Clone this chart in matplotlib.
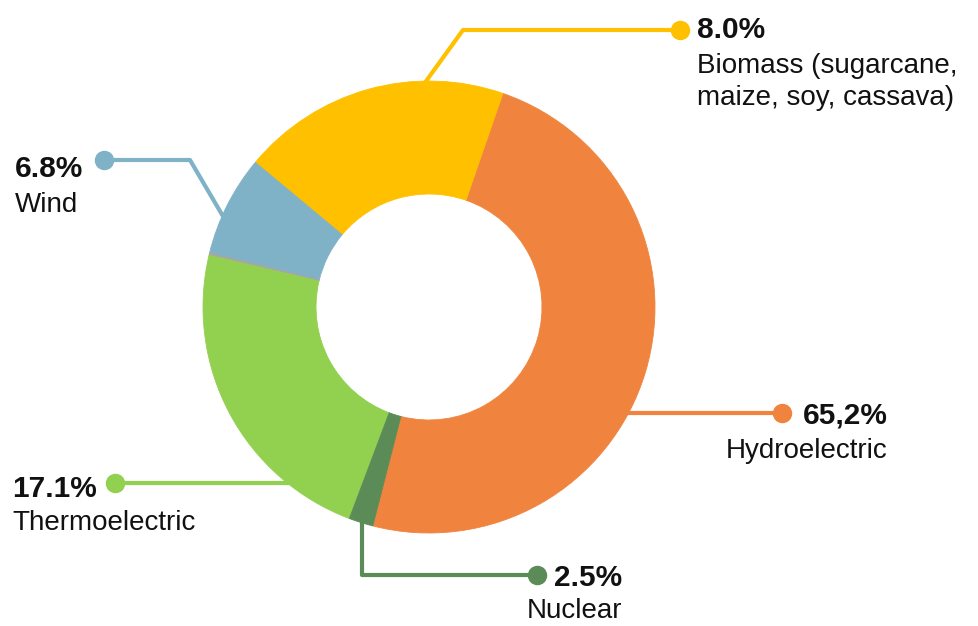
import matplotlib
matplotlib.use('Agg')
import matplotlib.pyplot as plt

plt.rcParams['font.family'] = ['Liberation Sans', 'DejaVu Sans']

# slice shares as drawn in the picture (the printed labels differ from the drawn angles)
sources = ['Hydroelectric', 'Biomass', 'Wind', 'Other', 'Thermoelectric', 'Nuclear']
shares = [48.7, 19.25, 7.2, 0.17, 22.95, 1.73]
colors = ['#F0843E', '#FFC000', '#7FB2C7', '#A6A6A6', '#92D050', '#5B8C57']

# printed labels
pct_labels = ['65,2%', '8.0%', '6.8%', '', '17.1%', '2.5%']
name_labels = ['Hydroelectric', 'Biomass (sugarcane,\nmaize, soy, cassava)', 'Wind', '',
               'Thermoelectric', 'Nuclear']

W, H = 979, 626
fig = plt.figure(figsize=(W / 100, H / 100), dpi=100)
ax = fig.add_axes([0, 0, 1, 1])

cx, cy, R = 429, H - 307, 226
wedges, _ = ax.pie(shares, colors=colors, startangle=-104.4, counterclock=True,
                   center=(cx, cy), radius=R, wedgeprops=dict(width=113, linewidth=0.6))
for w in wedges:
    w.set_edgecolor(w.get_facecolor())
    w.set_zorder(3)

ax.set_xlim(0, W)
ax.set_ylim(0, H)
ax.set_aspect('equal')
ax.axis('off')

# leader lines (pixel coords, y measured from top)
leaders = {
    0: [(620, 413), (782, 413)],
    1: [(424, 84), (463, 30), (680, 30)],
    2: [(224, 218), (190, 160), (104, 160)],
    4: [(295, 483), (115, 483)],
    5: [(362, 515), (362, 575), (537, 575)],
}
for i, pts in leaders.items():
    xs = [p[0] for p in pts]
    ys = [H - p[1] for p in pts]
    ax.plot(xs, ys, color=colors[i], lw=3, solid_capstyle='butt', zorder=1)
    ax.plot(xs[-1], ys[-1], 'o', color=colors[i], ms=13, zorder=2)

# label text: (x, baseline of pct, baseline of name, align)
text_pos = {
    0: (888, 423, 458, 'right'),
    1: (697, 38, 73, 'left'),
    2: (15, 177, 212, 'left'),
    4: (12, 497, 530, 'left'),
    5: (622, 586, 618, 'right'),
}
for i, (x, yp, yn, ha) in text_pos.items():
    ax.text(x, H - yp, pct_labels[i], ha=ha, va='baseline', fontsize=21.5,
            fontweight='bold', color='#111111')
    lines = name_labels[i].split('\n')
    for k, line in enumerate(lines):
        ax.text(x, H - yn - 32 * k, line, ha=ha, va='baseline', fontsize=20,
                color='#111111')

fig.savefig('out.png', dpi=100, facecolor='white')
